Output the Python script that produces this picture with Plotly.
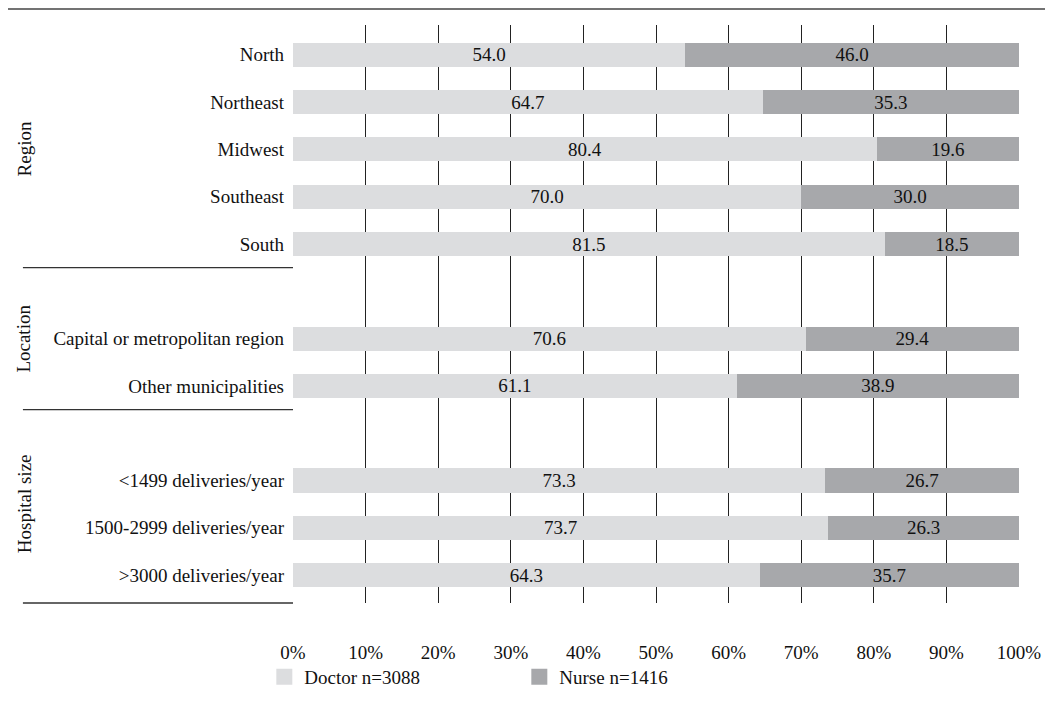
import plotly.graph_objects as go

# Row labels, bottom to top; empty strings are spacer rows between groups
categories = [
    ">3000 deliveries/year",
    "1500-2999 deliveries/year",
    "<1499 deliveries/year",
    "",
    "Other municipalities",
    "Capital or metropolitan region",
    " ",
    "South",
    "Southeast",
    "Midwest",
    "Northeast",
    "North",
]
doctor = [64.3, 73.7, 73.3, None, 61.1, 70.6, None, 81.5, 70.0, 80.4, 64.7, 54.0]
nurse = [35.7, 26.3, 26.7, None, 38.9, 29.4, None, 18.5, 30.0, 19.6, 35.3, 46.0]
series_names = ["Doctor n=3088", "Nurse n=1416"]

x_ticks = [0, 10, 20, 30, 40, 50, 60, 70, 80, 90, 100]
x_tick_labels = [f"{t}%" for t in x_ticks]

groups = ["Region", "Location", "Hospital size"]
group_centers = [9, 5, 1.5]
group_breaks = [6.5, 3.5]

LIGHT = "#dcdddf"
DARK = "#a7a8ab"
FONT = "Liberation Serif"
FS = 19

pos = list(range(len(categories)))

fig = go.Figure()
for name, vals, color in zip(series_names, [doctor, nurse], [LIGHT, DARK]):
    fig.add_trace(go.Bar(
        y=pos, x=vals, orientation="h", name=name, showlegend=False,
        marker=dict(color=color, line=dict(width=0)),
        width=0.51,
        text=[f"{v:.1f}" if v is not None else "" for v in vals],
        textposition="inside", insidetextanchor="middle",
        textangle=0, constraintext="none",
        textfont=dict(family=FONT, size=FS, color="#111"),
        hoverinfo="skip",
    ))
    # Legend entry with a larger square swatch
    fig.add_trace(go.Scatter(
        x=[None], y=[None], mode="markers", name=name,
        marker=dict(symbol="square", size=18, color=color, line=dict(width=0)),
        hoverinfo="skip",
    ))

# Group separators and bottom rule in the label column
for yb in group_breaks:
    fig.add_shape(type="line", xref="paper", yref="y", x0=-0.372, x1=0, y0=yb, y1=yb,
                  line=dict(color="#333", width=1.3))
fig.add_shape(type="line", xref="paper", yref="paper", x0=-0.372, x1=0, y0=0, y1=0,
              line=dict(color="#333", width=1.3))
# Top rule across the page
fig.add_shape(type="line", xref="paper", yref="paper", x0=-0.3926, x1=1.04, y0=1.0277, y1=1.0277,
              line=dict(color="#444", width=1.5))

for g, c in zip(groups, group_centers):
    fig.add_annotation(text=g, xref="paper", yref="y", x=-0.3705, y=c, textangle=-90,
                       showarrow=False, xanchor="center", yanchor="middle",
                       font=dict(family=FONT, size=FS, color="#111"))

fig.update_layout(
    width=1045, height=715,
    margin=dict(l=293, r=26, t=25, b=112, autoexpand=False),
    paper_bgcolor="white", plot_bgcolor="white",
    barmode="stack", bargap=0.49,
    font=dict(family=FONT, size=FS, color="#111"),
    showlegend=True,
    legend=dict(orientation="h", x=-0.0395, xanchor="left", y=-0.128, yanchor="middle",
                bgcolor="rgba(0,0,0,0)",
                entrywidth=210, entrywidthmode="pixels", traceorder="normal",
                font=dict(family=FONT, size=FS, color="#111")),
    xaxis=dict(range=[0, 100], tickvals=x_ticks, ticktext=x_tick_labels,
               showgrid=True, gridcolor="#222", gridwidth=1, zeroline=False,
               showline=False, ticks="", ticklabelstandoff=36, fixedrange=True,
               automargin=False),
    yaxis=dict(range=[-0.59, 11.63], tickvals=pos, ticktext=categories,
               showgrid=False, zeroline=False, showline=False, ticks="",
               ticklabelstandoff=8, fixedrange=True, automargin=False),
)

fig.write_html("out.html")
